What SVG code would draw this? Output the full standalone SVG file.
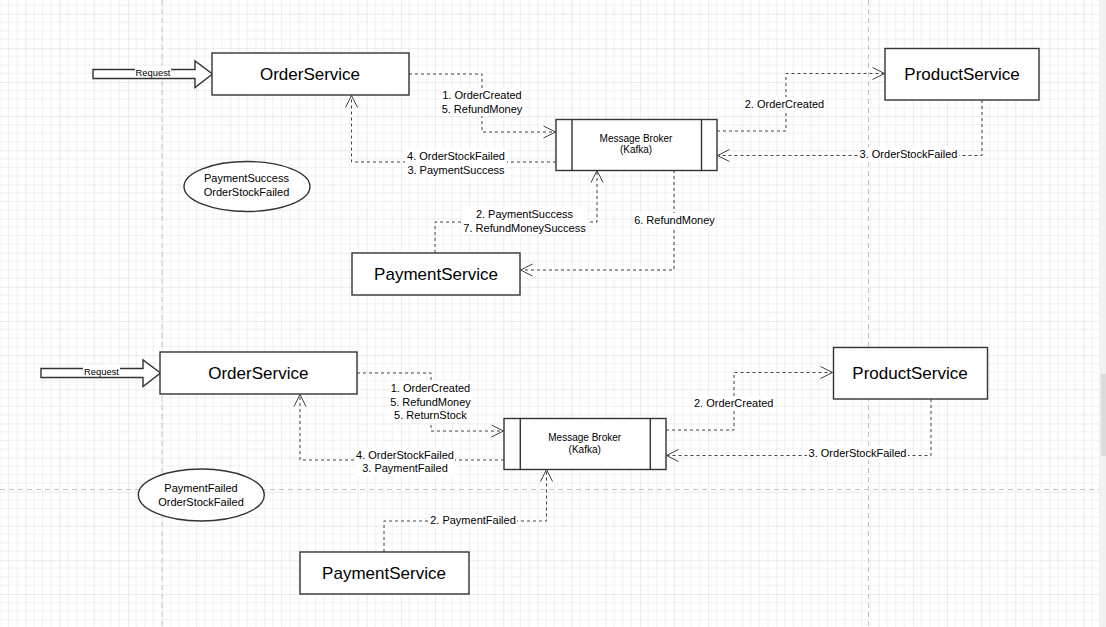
<svg xmlns="http://www.w3.org/2000/svg" width="1106" height="627" viewBox="0 0 1106 627">
  <style>
    .node { fill: #fff; stroke: #333; stroke-width: 1.4; }
    .nt { font-family: "Liberation Sans", Arial, sans-serif; font-size: 17px; text-anchor: middle; fill: #000; }
    .st { font-family: "Liberation Sans", Arial, sans-serif; font-size: 10px; text-anchor: middle; fill: #000; }
    .et { font-family: "Liberation Sans", Arial, sans-serif; font-size: 11px; text-anchor: middle; fill: #000; }
    .lbl { font-family: "Liberation Sans", Arial, sans-serif; font-size: 11px; text-anchor: middle; fill: #000; }
    .lbg { fill: #fff; }
    .edge { fill: none; stroke: #444; stroke-width: 1; stroke-dasharray: 3 3; marker-end: url(#open); }
    .pb { fill: none; stroke: #c4c4c4; stroke-width: 1; stroke-dasharray: 5 4; }
  </style>
  <defs>
    <pattern id="grid" x="25.5" y="13.8" width="34.13" height="34.13" patternUnits="userSpaceOnUse">
      <path d="M8.53 0V34.13M17.07 0V34.13M25.6 0V34.13M0 8.53H34.13M0 17.07H34.13M0 25.6H34.13" stroke="#f0f0f0" stroke-width="1" fill="none"/>
      <path d="M0 0V34.13M0 0H34.13" stroke="#dadada" stroke-width="1" fill="none"/>
    </pattern>
    <marker id="open" markerUnits="userSpaceOnUse" markerWidth="14" markerHeight="14" refX="12" refY="6" orient="auto" viewBox="-1 -1 14 14">
      <path d="M0 0L12 6L0 12" fill="none" stroke="#444" stroke-width="1"/>
    </marker>
  </defs>

  <!-- canvas background and grid -->
  <rect width="1106" height="627" fill="#fff"/>
  <rect width="1106" height="627" fill="url(#grid)"/>

  <!-- page breaks -->
  <g id="page-breaks">
    <path class="pb" d="M162 0V627M868.5 0V627M0 489.5H1100"/>
  </g>

  <!-- scrollbar -->
  <rect x="1099" y="0" width="7" height="627" fill="#f1f1f1"/>
  <rect x="1101" y="374" width="5" height="82" fill="#dcdcdc"/>

  <!-- connectors -->
  <g id="connectors">
    <!-- upper flow (success) -->
    <path class="edge" d="M409 74H482V132H555.5"/>
    <path class="edge" d="M717 131H786V73.5H884.5"/>
    <path class="edge" d="M982 100V155.5H717.5"/>
    <path class="edge" d="M556 162H351.5V95.5"/>
    <path class="edge" d="M435 253V222H597V170.5"/>
    <path class="edge" d="M674 170V270H520.5"/>
    <!-- lower flow (failure) -->
    <path class="edge" d="M357 373H431V431H503.5"/>
    <path class="edge" d="M666 430H734V372.5H832.5"/>
    <path class="edge" d="M931 399V455.5H666.5"/>
    <path class="edge" d="M504 460H300V394.5"/>
    <path class="edge" d="M384 552V521H546.5V469.5"/>

    <!-- connector labels -->
    <rect class="lbg" x="441" y="88" width="82" height="28"/>
    <text class="lbl" x="482" y="99">1. OrderCreated</text>
    <text class="lbl" x="482" y="113">5. RefundMoney</text>

    <rect class="lbg" x="405" y="149" width="102" height="28"/>
    <text class="lbl" x="456" y="160">4. OrderStockFailed</text>
    <text class="lbl" x="456" y="174">3. PaymentSuccess</text>

    <rect class="lbg" x="744" y="97" width="81" height="14"/>
    <text class="lbl" x="784.5" y="108">2. OrderCreated</text>

    <rect class="lbg" x="858" y="147" width="101" height="14"/>
    <text class="lbl" x="908.5" y="158.3">3. OrderStockFailed</text>

    <rect class="lbg" x="462" y="207" width="125" height="28"/>
    <text class="lbl" x="524.5" y="218.3">2. PaymentSuccess</text>
    <text class="lbl" x="524.5" y="231.7">7. RefundMoneySuccess</text>

    <rect class="lbg" x="633" y="213" width="83" height="14"/>
    <text class="lbl" x="674.5" y="224">6. RefundMoney</text>

    <rect class="lbg" x="390" y="381" width="81" height="42"/>
    <text class="lbl" x="430.5" y="391.7">1. OrderCreated</text>
    <text class="lbl" x="430.5" y="405.7">5. RefundMoney</text>
    <text class="lbl" x="430.5" y="419">5. ReturnStock</text>

    <rect class="lbg" x="355" y="448" width="100" height="28"/>
    <text class="lbl" x="405" y="459">4. OrderStockFailed</text>
    <text class="lbl" x="405" y="472.3">3. PaymentFailed</text>

    <rect class="lbg" x="693" y="396" width="81" height="14"/>
    <text class="lbl" x="733.7" y="406.7">2. OrderCreated</text>

    <rect class="lbg" x="807" y="446" width="101" height="14"/>
    <text class="lbl" x="857.5" y="456.7">3. OrderStockFailed</text>

    <rect class="lbg" x="429" y="514" width="88" height="14"/>
    <text class="lbl" x="473" y="524.3">2. PaymentFailed</text>
  </g>

  <!-- upper flow nodes -->
  <g id="request-1">
    <polygon class="node" points="93,69.5 195,69.5 195,61 212.5,74 195,87.5 195,78.5 93,78.5"/>
    <rect class="lbg" x="135" y="66" width="36" height="11"/>
    <text x="153" y="75.7" font-family="Liberation Sans, Arial, sans-serif" font-size="9.4" text-anchor="middle">Request</text>
  </g>
  <g id="order-service-1">
    <rect class="node" x="212" y="53" width="197" height="42"/>
    <text class="nt" x="310" y="79.5">OrderService</text>
  </g>
  <g id="broker-1">
    <rect class="node" x="556" y="119.5" width="161" height="51"/>
    <path d="M572 119.5V170.5M701.5 119.5V170.5" stroke="#333" stroke-width="1.4"/>
    <text class="st" x="636" y="141.7">Message Broker</text>
    <text class="st" x="636" y="153.3">(Kafka)</text>
  </g>
  <g id="product-service-1">
    <rect class="node" x="885" y="48.5" width="154" height="51.5"/>
    <text class="nt" x="962" y="79.5">ProductService</text>
  </g>
  <g id="payment-service-1">
    <rect class="node" x="352" y="253" width="168" height="42"/>
    <text class="nt" x="436" y="280">PaymentService</text>
  </g>
  <g id="outcome-1">
    <ellipse class="node" cx="247" cy="186.5" rx="63" ry="25"/>
    <text class="et" x="246.5" y="181.7">PaymentSuccess</text>
    <text class="et" x="246.5" y="196">OrderStockFailed</text>
  </g>

  <!-- lower flow nodes -->
  <g id="request-2">
    <polygon class="node" points="41,368.5 143,368.5 143,360 160.5,373 143,386.5 143,377.5 41,377.5"/>
    <rect class="lbg" x="83" y="365" width="37" height="11"/>
    <text x="101.5" y="375" font-family="Liberation Sans, Arial, sans-serif" font-size="9.4" text-anchor="middle">Request</text>
  </g>
  <g id="order-service-2">
    <rect class="node" x="160" y="352" width="197" height="42"/>
    <text class="nt" x="258.3" y="379">OrderService</text>
  </g>
  <g id="broker-2">
    <rect class="node" x="504" y="418.5" width="162" height="51"/>
    <path d="M520.3 418.5V469.5M650.3 418.5V469.5" stroke="#333" stroke-width="1.4"/>
    <text class="st" x="584.7" y="441">Message Broker</text>
    <text class="st" x="584.7" y="452.7">(Kafka)</text>
  </g>
  <g id="product-service-2">
    <rect class="node" x="833.5" y="347.5" width="154" height="51.5"/>
    <text class="nt" x="910" y="379">ProductService</text>
  </g>
  <g id="payment-service-2">
    <rect class="node" x="300" y="552" width="169" height="42"/>
    <text class="nt" x="384" y="579">PaymentService</text>
  </g>
  <g id="outcome-2">
    <ellipse class="node" cx="201.3" cy="495" rx="63" ry="26"/>
    <text class="et" x="201" y="492.3">PaymentFailed</text>
    <text class="et" x="201" y="505.7">OrderStockFailed</text>
  </g>
</svg>
